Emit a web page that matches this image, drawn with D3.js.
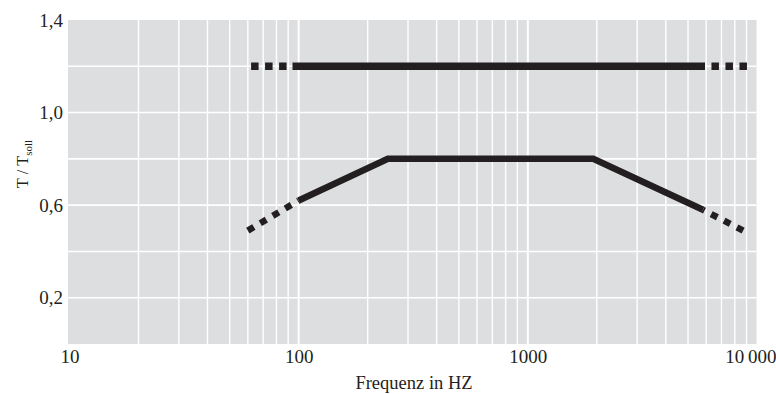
<!DOCTYPE html>
<html>
<head>
<meta charset="utf-8">
<script src="https://cdn.jsdelivr.net/npm/d3@7"></script>
<style>
  html, body { margin: 0; padding: 0; background: #fff; }
  svg text { font-family: "Liberation Serif", "DejaVu Serif", serif; fill: #231f20; }
</style>
</head>
<body>
<div id="chart"></div>
<script>
// tick labels
const xTicks = [10, 100, 1000, 10000];
const yTicks = [0.2, 0.6, 1.0, 1.4];
const yGrid = [0.2, 0.4, 0.6, 0.8, 1.0, 1.2];

// upper tolerance line (T/Tsoll = 1.2), dotted at both ends
const upperFreq = [62, 94, 5930, 9040];
const upperVal = [1.2, 1.2, 1.2, 1.2];

// lower tolerance line
const lowerFreq = [60, 100, 245, 1930, 5810, 8700];
const lowerVal = [0.49, 0.62, 0.80, 0.80, 0.58, 0.49];

const width = 776, height = 394;
const plot = { left: 68, right: 756.5, top: 20, bottom: 344 };
const ink = '#231f20';

const svg = d3.select('#chart').append('svg')
  .attr('width', width)
  .attr('height', height);

const x = d3.scaleLog().domain([10, 10000]).range([69.5, 757]);
const y = d3.scaleLinear().domain([0, 1.4]).range([plot.bottom, plot.top]);

svg.append('rect')
  .attr('x', plot.left)
  .attr('y', plot.top)
  .attr('width', plot.right - plot.left)
  .attr('height', plot.bottom - plot.top)
  .attr('fill', '#dddee0');

// vertical grid: 20..90, 100..900, 1000..9000
const xGrid = [];
[10, 100, 1000].forEach(dec => {
  for (let k = 1; k <= 9; k++) if (dec * k > 10) xGrid.push(dec * k);
});

svg.append('g')
  .selectAll('line')
  .data(xGrid)
  .join('line')
  .attr('x1', d => x(d))
  .attr('x2', d => x(d))
  .attr('y1', plot.top)
  .attr('y2', plot.bottom)
  .attr('stroke', '#fff')
  .attr('stroke-width', d => (d === 100 || d === 1000) ? 2 : 1.4);

svg.append('g')
  .selectAll('line')
  .data(yGrid)
  .join('line')
  .attr('x1', plot.left)
  .attr('x2', plot.right)
  .attr('y1', d => y(d))
  .attr('y2', d => y(d))
  .attr('stroke', '#fff')
  .attr('stroke-width', 1.6);

// axes (labels only)
const yAxis = svg.append('g')
  .attr('transform', `translate(${plot.left},0)`)
  .call(d3.axisLeft(y).tickValues(yTicks).tickSize(0).tickPadding(5)
    .tickFormat(d => d.toFixed(1).replace('.', ',')));
yAxis.select('.domain').remove();
yAxis.selectAll('text').attr('font-size', 19).attr('fill', ink)
  .style('font-family', '"Liberation Serif", serif');

const xAxis = svg.append('g')
  .attr('transform', `translate(0,${plot.bottom})`)
  .call(d3.axisBottom(x).tickValues(xTicks).tickSize(0).tickPadding(5.5)
    .tickFormat(d => d === 10000 ? '10\u2009000' : String(d)));
xAxis.select('.domain').remove();
xAxis.selectAll('text').attr('font-size', 19).attr('fill', ink)
  .style('font-family', '"Liberation Serif", serif');
xAxis.selectAll('.tick').filter(d => d === 10000).select('text')
  .attr('text-anchor', 'end').attr('x', 19);

svg.append('text')
  .attr('x', 414)
  .attr('y', 389)
  .attr('text-anchor', 'middle')
  .attr('font-size', 18.5)
  .text('Frequenz in HZ');

const yTitle = svg.append('text')
  .attr('transform', 'translate(28,164) rotate(-90)')
  .attr('text-anchor', 'middle')
  .attr('font-size', 16.5);
yTitle.append('tspan').text('T / T');
yTitle.append('tspan').attr('font-size', 11).attr('dy', 4).text('soll');

// lines
const line = d3.line().x(d => x(d[0])).y(d => y(d[1]));

function drawSeries(freq, vals, sw, dash) {
  const pts = freq.map((f, i) => [f, vals[i]]);
  const n = pts.length;
  svg.append('path')
    .attr('d', line(pts.slice(1, n - 1)))
    .attr('fill', 'none')
    .attr('stroke', ink)
    .attr('stroke-width', sw)
    .attr('stroke-linejoin', 'miter');
  // left dotted end, drawn from outer end inwards
  svg.append('path')
    .attr('d', line(pts.slice(0, 2)))
    .attr('fill', 'none')
    .attr('stroke', ink)
    .attr('stroke-width', sw)
    .attr('stroke-dasharray', dash);
  // right dotted end, drawn from outer end inwards
  svg.append('path')
    .attr('d', line(pts.slice(n - 2).reverse()))
    .attr('fill', 'none')
    .attr('stroke', ink)
    .attr('stroke-width', sw)
    .attr('stroke-dasharray', dash);
}

drawSeries(upperFreq, upperVal, 7.5, '7.5,6.5');
drawSeries(lowerFreq, lowerVal, 6.5, '7,7.5');
</script>
</body>
</html>
